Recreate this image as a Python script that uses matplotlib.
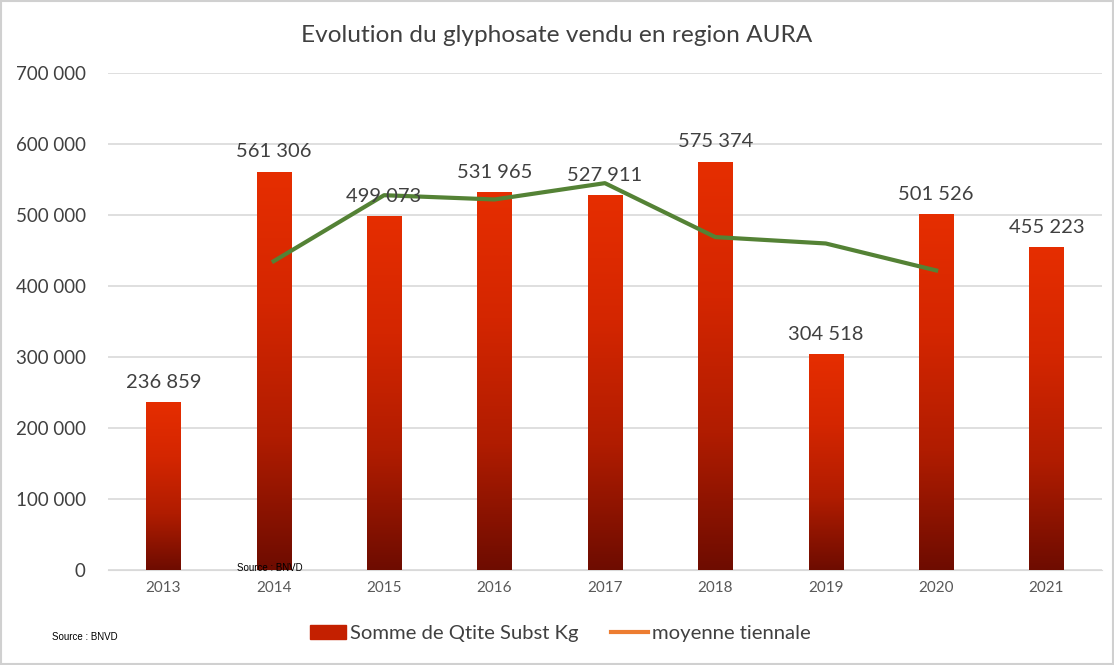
import matplotlib
matplotlib.use("Agg")
import matplotlib.pyplot as plt
import numpy as np
from matplotlib.lines import Line2D
from matplotlib.patches import Rectangle

years = ["2013", "2014", "2015", "2016", "2017", "2018", "2019", "2020", "2021"]
qtite = [236859, 561306, 499073, 531965, 527911, 575374, 304518, 501526, 455223]
# moyenne tiennale (2014 to 2020)
moyenne_years = ["2014", "2015", "2016", "2017", "2018", "2019", "2020"]
moyenne = [435000, 528000, 522000, 545000, 469000, 460000, 422000]
yticks = [0, 100000, 200000, 300000, 400000, 500000, 600000, 700000]


def fmt(v):
    return "{:,}".format(v).replace(",", " ")


plt.rcParams["font.family"] = ["Lato", "DejaVu Sans"]

fig = plt.figure(figsize=(11.14, 6.65), dpi=100)
ax = fig.add_axes([0.097, 0.143, 0.892, 0.747])

x = np.arange(len(years))
bars = ax.bar(x, qtite, width=0.31, color="#C82200", zorder=2)

# vertical gradient inside each bar
grad = np.linspace(0, 1, 256).reshape(-1, 1)
cmap = matplotlib.colors.LinearSegmentedColormap.from_list(
    "bar", ["#6E0C00", "#B01C00", "#D42600", "#E62E00"])
for b in bars:
    im = ax.imshow(grad, cmap=cmap, aspect="auto", origin="lower",
                   extent=[b.get_x(), b.get_x() + b.get_width(), 0, b.get_height()],
                   zorder=3)
    im.set_clip_path(b)

for xi, v in zip(x, qtite):
    ax.annotate(fmt(v), (xi, v), xytext=(0, 8), textcoords="offset points",
                ha="center", va="bottom", fontsize=14.5, color="#404040", zorder=5)

mx = [years.index(y) for y in moyenne_years]
ax.plot(mx, moyenne, color="#548235", lw=3, zorder=4)

ax.set_xlim(-0.5, len(years) - 0.5)
ax.set_ylim(0, 700000)
ax.set_yticks(yticks)
ax.set_yticklabels([fmt(v) for v in yticks], fontsize=13.5, color="#404040")
ax.set_xticks(x)
ax.set_xticklabels(years, fontsize=11, color="#595959")
ax.tick_params(length=0, pad=8)
ax.tick_params(axis="y", pad=16)
ax.grid(axis="y", color="#D9D9D9", lw=1.2, zorder=0)
for s in ["top", "right", "left"]:
    ax.spines[s].set_visible(False)
ax.spines["bottom"].set_color("#D9D9D9")
ax.set_axisbelow(True)

fig.text(0.5, 0.947, "Evolution du glyphosate vendu en region AURA",
         ha="center", va="center", fontsize=17.6, color="#404040")

handles = [Rectangle((0, 0), 1, 1, color="#C42000"),
           Line2D([0], [0], color="#ED7D31", lw=3)]
fig.legend(handles, ["Somme de Qtite Subst Kg", "moyenne tiennale"],
           loc="center", bbox_to_anchor=(0.503, 0.047), ncol=2, frameon=False,
           fontsize=14.6, handlelength=1.8, handletextpad=0.2, columnspacing=1.6,
           labelcolor="#404040")

fig.text(0.213, 0.146, "Source : BNVD", fontsize=7, family="Liberation Sans",
         va="center", zorder=10)
fig.text(0.047, 0.042, "Source : BNVD", fontsize=7, family="Liberation Sans",
         va="center")

fig.patches.append(Rectangle((0.001, 0.002), 0.998, 0.996, transform=fig.transFigure,
                             fill=False, edgecolor="#D0D0D0", lw=1.5))

fig.savefig("out.png", dpi=100)
